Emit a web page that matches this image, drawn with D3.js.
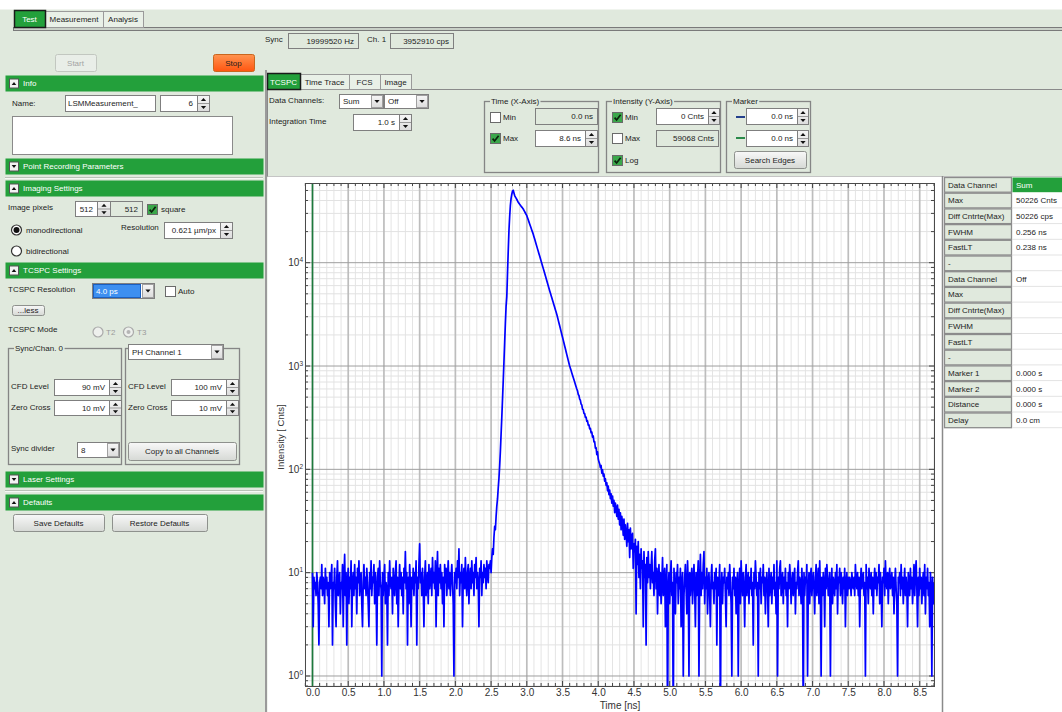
<!DOCTYPE html>
<html><head><meta charset="utf-8">
<script src="https://cdn.jsdelivr.net/npm/d3@7"></script>
<style>
html,body{margin:0;padding:0;background:#fff;}
svg{display:block;font-family:"Liberation Sans",Arial,sans-serif;}
text{fill:#1c1c1c;font-size:8px;}
</style></head><body><div id="app"></div>
<script>
// histogram bins (counts per 10 ps bin)
var binNs = 0.01;
var preStart = 0.00;
var preCounts = [
 10,3,9,7,8,6,10,8,5,2, 8,9,7,12,6,9,8,5,11,7, 9,6,8,3,10,7,9,12,2,8,
 7,11,5,3,9,13,6,8,10,4, 8,7,12,3,9,15,6,10,2,8, 11,5,9,7,13,3,8,10,6,12,
 7,9,4,11,8,13,6,9,10,5, 3,8,12,7,9,6,11,8,5,3, 10,7,13,6,9,8,12,5,10,7,
 2,9,11,6,13,8,7,1,10,6, 9,12,5,8,7,2,10,6,13,8, 7,9,4,11,8,6,10,13,5,9,
 3,8,12,7,10,6,9,4,11,8, 16,7,10,2,9,5,12,8,3,9, 7,11,6,10,8,13,2,9,7,12,
 19,8,10,6,11,7,3,9,13,6, 8,10,5,12,7,9,11,6,14,8, 10,7,13,3,9,16,6,11,8,12,
 7,10,5,9,3,12,8,11,6,9, 13,7,10,6,9,12,8,5,1,10, 8,11,7,13,9,17,6,10,8,12,
 3,9,11,7,14,8,6,10,12,5, 9,11,7,13,8,10,6,12,9,14, 7,10,8,3,11,9,13,6,10,8,
 12,9,11,7,13,10,8,12
];
var pulseStart = 2.48;
var pulseCounts = [
 11,13,10,14,17,15,22,28,26,35,
 44,52,66,82,108,150,220,320,480,720,
 1100,1700,2600,3800,4700,8000,13000,20500,28000,36000,
 42000,46000,49400,50226,47300,44700,43250,42200,40900,39600,
 38460,37580,36730,35970,35240,34510,33810,33110,32140,31190,
 30270,29380,28510,27230,26000,24830,23710,22650,21630,20650,
 19770,18880,17870,16940,16030,15200,14390,13610,12910,12220,
 11590,10960,10380,9840,9310,8810,8340,7890,7460,7060,
 6680,6320,5980,5660,5360,5080,4820,4570,4340,4110,
 3900,3700,3510,3330,3160,2965,2780,2610,2450,2300,
 2150,2020,1900,1780,1670,1565,1470,1375,1290,1210,
 1135,1065,1000,950,903,858,815,774,736,699,
 664,631,600,575,531,518,478,466,428,419,
 383,378,348,346,318,320,291,294,268,270,
 246,249,226,229,205,210,184,185,160,162,
 139,148,126,118,113,104,109,92,99,86,
 90,77,81,70,74,62,69,57,63,52,
 58,47,55,44,50,38,47,41,35,45,
 33,41,29,38,26,35,30,23,33,21,
 29,24,18,30,20,26,14,27,17,22,
 24,11,19,16,21,4,18,12,20,9,
 15,7,17,11,13,3,16,9,12,2,
 14,8,16
];
var tailStart = 4.71;
var tailCounts = [
 9,12,7,11,16,8,10,6,13,17, 7,11,4,9,12,6,10,5,8,14, 6,9,11,3,8,12,0,7,10,5,
 9,13,6,8,0,11,7,4,10,8, 12,5,9,7,11,3,8,10,1,6, 9,12,7,4,13,8,1,10,6,9,
 11,5,8,12,7,3,10,6,9,13, 1,8,15,6,10,7,12,16,5,9, 7,11,4,8,10,6,3,9,12,7,
 8,5,10,7,11,2,9,6,8,12, 0,7,10,5,9,8,11,6,3,9, 7,10,6,12,8,5,1,9,7,11,
 6,9,4,8,10,1,7,11,5,13, 8,6,10,7,3,9,12,6,8,10, 5,9,7,11,6,8,2,10,7,13,
 9,6,8,1,10,7,11,5,9,8, 12,6,9,4,8,10,7,3,11,6, 8,10,5,9,7,12,6,8,4,13,
 1,9,7,11,13,6,8,10,5,9, 7,11,6,8,3,10,7,12,9,5, 8,10,6,9,11,4,8,7,10,13,
 6,9,8,5,11,7,0,10,6,9, 8,12,1,7,10,5,9,11,6,8, 10,7,4,9,12,6,8,11,5,13,
 7,1,9,6,10,8,3,11,7,12, 9,6,8,10,1,7,11,5,9,8, 6,10,7,12,4,9,8,11,6,10,
 8,5,9,7,11,3,8,10,6,9, 7,9,8,6,10,8,7,9,6,12, 8,7,10,6,9,3,8,11,7,9,
 10,6,8,1,12,7,9,5,11,8, 7,10,6,9,4,8,11,7,10,6, 9,8,12,5,10,7,3,9,8,11,
 6,13,8,7,10,5,9,11,7,8, 10,6,9,4,8,11,7,5,1,9, 8,10,6,12,7,9,5,8,11,6,
 9,7,3,10,8,6,11,7,9,5, 8,12,6,10,13,7,3,9,6,11, 7,9,5,8,10,6,12,4,9,7,
 11,6,8,3,10,7,1,9,5,8
];
var xMin = -0.105, xMax = 8.70;
var yMin = 0.8, yMax = 59068;
var xMajor = d3.range(0, 18).map(function(i){ return i * 0.5; });
var xMinor = d3.range(-1, 88).map(function(i){ return i / 10; });
var yDecades = [1, 10, 100, 1000, 10000];

var tableLabels = ['Data Channel','Max','Diff Cntrte(Max)','FWHM','FastLT','-',
  'Data Channel','Max','Diff Cntrte(Max)','FWHM','FastLT','-',
  'Marker 1','Marker 2','Distance','Delay'];
var tableValues = ['Sum','50226 Cnts','50226 cps','0.256 ns','0.238 ns','',
  'Off','','','','','','0.000 s','0.000 s','0.000 s','0.0 cm'];

var W = 1062, H = 712;
var BG = '#e0e9dd', GREEN = '#23a03b', EDGE = '#7f7f7f';

var svg = d3.select('#app').append('svg').attr('width', W).attr('height', H);
var defs = svg.append('defs');
function grad(id, c1, c2){
  var g = defs.append('linearGradient').attr('id', id).attr('x1',0).attr('y1',0).attr('x2',0).attr('y2',1);
  g.append('stop').attr('offset','0%').attr('stop-color',c1);
  g.append('stop').attr('offset','100%').attr('stop-color',c2);
}
grad('btn','#f8f8f8','#d6d9d5');
grad('stop','#ff9450','#ff5510');
grad('spin','#f6f6f6','#dcdcdc');

var ui = svg.append('g');

function rect(x,y,w,h,fill,stroke,sw){
  return ui.append('rect').attr('x',x+.5).attr('y',y+.5).attr('width',w).attr('height',h)
    .attr('fill',fill).attr('stroke',stroke||'none').attr('stroke-width',sw||1);
}
function txt(x,y,s,o){
  o = o || {};
  var t = ui.append('text').attr('x',x).attr('y',y).text(s);
  if(o.anchor) t.attr('text-anchor',o.anchor);
  if(o.fill) t.style('fill',o.fill);
  if(o.size) t.style('font-size',o.size+'px');
  return t;
}
function hline(x1,x2,y,c,w){ ui.append('line').attr('x1',x1).attr('x2',x2).attr('y1',y).attr('y2',y).attr('stroke',c).attr('stroke-width',w||1); }
function vline(x,y1,y2,c,w){ ui.append('line').attr('x1',x).attr('x2',x).attr('y1',y1).attr('y2',y2).attr('stroke',c).attr('stroke-width',w||1); }
function tri(cx,cy,up,size,c){
  var s = size||2.5;
  var d = up ? 'M'+(cx-s)+','+(cy+s*0.6)+'L'+(cx+s)+','+(cy+s*0.6)+'L'+cx+','+(cy-s*0.6)+'Z'
             : 'M'+(cx-s)+','+(cy-s*0.6)+'L'+(cx+s)+','+(cy-s*0.6)+'L'+cx+','+(cy+s*0.6)+'Z';
  ui.append('path').attr('d',d).attr('fill',c||'#111');
}
function box(x,y,w,h,s,align,bg){
  rect(x,y,w,h,bg||'#fff',EDGE);
  if(s){
    if(align==='start') txt(x+3,y+h/2+3,s);
    else txt(x+w-4,y+h/2+3,s,{anchor:'end'});
  }
}
function spinner(x,y,w,h){
  rect(x,y,w,h,'url(#spin)',EDGE);
  hline(x+1,x+w,y+h/2+.5,'#999');
  tri(x+w/2+.5,y+h/4+.5,true,2.6);
  tri(x+w/2+.5,y+h*3/4+.5,false,2.6);
}
function checkbox(x,y,on){
  rect(x,y,10,10,on?'#3ba84b':'#fff','#6a6a6a');
  if(on) ui.append('path').attr('d','M'+(x+2.6)+','+(y+5.6)+'L'+(x+4.6)+','+(y+8)+'L'+(x+8.6)+','+(y+2.8))
    .attr('fill','none').attr('stroke','#0a230c').attr('stroke-width',1.7);
}
function dropdown(x,y,w,h,s,sel){
  rect(x,y,w,h,'#fff',EDGE);
  if(sel) rect(x+1,y+1,w-15,h-2,'#3d8ff0','#1a5fc0');
  rect(x+w-12,y+1,11,h-2,'url(#spin)','#a0a0a0');
  tri(x+w-6,y+h/2+.5,false,2.6);
  txt(x+4,y+h/2+3,s,{fill:sel?'#fff':'#1c1c1c'});
}
function button(x,y,w,h,s,o){
  o = o || {};
  ui.append('rect').attr('x',x+.5).attr('y',y+.5).attr('width',w).attr('height',h).attr('rx',2)
    .attr('fill',o.fill||'url(#btn)').attr('stroke',o.stroke||'#8e918d');
  txt(x+w/2,y+h/2+3,s,{anchor:'middle',fill:o.color});
}
function header(y,s,open){
  rect(5,y,258,16,GREEN);
  rect(9,y+3.5,9,9,'#f2f2f2','#555');
  tri(14,y+8.5,open,2.3);
  txt(23,y+11,s,{fill:'#fff'});
}
function group(x,y,w,h,title){
  rect(x,y,w,h,'none','#858585',1.3);
  if(title){
    var t = txt(x+7,y+3,title);
    var bb = t.node().getBBox();
    ui.insert('rect','text:last-of-type').attr('x',bb.x-1).attr('y',bb.y).attr('width',bb.width+2).attr('height',bb.height).attr('fill',BG);
    t.raise();
  }
}
function radio(cx,cy,on,dis){
  ui.append('circle').attr('cx',cx).attr('cy',cy).attr('r',5).attr('fill',dis?'#eef0ed':'#fff')
    .attr('stroke',dis?'#aaa':'#333').attr('stroke-width',1.2);
  if(on) ui.append('circle').attr('cx',cx).attr('cy',cy).attr('r',dis?2:3).attr('fill',dis?'#b5b5b5':'#111');
}

// page background and main tabs
rect(-1,-1,W+2,H+2,BG);
rect(-1,-1,W+2,10,'#fff');
rect(13,27,W,3,'#c9d0c7','#7a7a7a');
rect(45,11,58,16,'#e9f0e7','#9a9a9a');
txt(74,22,'Measurement',{anchor:'middle'});
rect(103,11,40,16,'#e9f0e7','#9a9a9a');
txt(123,22,'Analysis',{anchor:'middle'});
rect(14,10,31,17,GREEN,'#1a1a1a',1.5);
txt(29.5,22,'Test',{anchor:'middle',fill:'#fff'});

// sync counters
txt(265,42,'Sync');
box(288,33,70,15,'19999520  Hz','end',BG);
txt(367,42,'Ch. 1');
box(390,33,63,15,'3952910  cps','end',BG);

button(55,54,41,17,'Start',{fill:'#e9eee8',stroke:'#c2c7c0',color:'#a3a3a3'});
button(213,54,41,17,'Stop',{fill:'url(#stop)',stroke:'#c8661e'});

// left settings panel
header(75,'Info',true);
txt(12,106,'Name:');
box(65,95,90,16,'LSMMeasurement_','start');
box(160,95,37,16,'6','end');
spinner(197,95,12,16);
rect(12,116,220,38,'#fff','#8a8a8a');
header(158,'Point Recording Parameters',false);
hline(5,263,177.5,'#b9c2b7'); hline(5,263,178.5,'#f6f9f5');
header(180,'Imaging Settings',true);
txt(8,210,'Image pixels');
box(75,201,22,15,'512','end');
spinner(97,201,13,15);
box(110,201,32,15,'512','end',BG);
checkbox(147,204,true);
txt(161,212,'square');
radio(16.5,230,true);
txt(26,233,'monodirectional');
txt(121,230,'Resolution');
box(164,222,56,16,'0.621 µm/px','end');
spinner(220,222,12,16);
radio(16.5,251,false);
txt(26,254,'bidirectional');
header(262,'TCSPC Settings',true);
txt(8,292,'TCSPC Resolution');
dropdown(92,283,62,15,'4.0 ps',true);
checkbox(165,286,false);
txt(178,294,'Auto');
button(12,305,32,10,'...less');
txt(8,332,'TCSPC Mode');
radio(98,332,false,true); txt(106,335,'T2',{fill:'#9a9a9a'});
radio(128.5,332,true,true); txt(137,335,'T3',{fill:'#9a9a9a'});
group(8,348,113,116,'Sync/Chan. 0');
group(125,348,114,116,null);
dropdown(128,344,95,15,'PH Channel 1');
txt(11,389,'CFD Level'); box(54,379,55,16,'90 mV','end'); spinner(109,379,12,16);
txt(11,410,'Zero Cross'); box(54,400,55,15,'10 mV','end'); spinner(109,400,12,15);
txt(11,451,'Sync divider'); dropdown(77,442,42,15,'8');
txt(128,389,'CFD Level'); box(171,379,55,16,'100 mV','end'); spinner(226,379,12,16);
txt(128,410,'Zero Cross'); box(171,400,55,15,'10 mV','end'); spinner(226,400,12,15);
button(128,442,108,18,'Copy to all Channels');
header(471,'Laser Settings',false);
hline(5,263,490.5,'#b9c2b7'); hline(5,263,491.5,'#f6f9f5');
header(494,'Defaults',true);
button(13,514,91,17,'Save Defaults');
button(112,514,95,17,'Restore Defaults');

// right side: sub tabs and control strip
rect(267,89,W,87,BG,'#8a8a8a');
rect(300,74,49,15,'#e9f0e7','#9a9a9a'); txt(324.5,85,'Time Trace',{anchor:'middle'});
rect(349,74,31,15,'#e9f0e7','#9a9a9a'); txt(364.5,85,'FCS',{anchor:'middle'});
rect(380,74,31,15,'#e9f0e7','#9a9a9a'); txt(395.5,85,'Image',{anchor:'middle'});
rect(267,73,33,16,GREEN,'#1a1a1a',1.5); txt(283.5,85,'TCSPC',{anchor:'middle',fill:'#fff'});
vline(266,70,712,'#9a9a9a',2);

txt(269,103,'Data Channels:');
dropdown(339,94,44,14,'Sum');
dropdown(384,94,44,14,'Off');
txt(269,124,'Integration Time');
box(353,114,46,16,'1.0 s','end');
spinner(399,114,12,16);

group(484,101,114,71,'Time (X-Axis)');
checkbox(490,112,false); txt(503,120,'Min');
box(535,108,62,16,'0.0  ns','end',BG);
checkbox(490,133,true); txt(503,141,'Max');
box(535,130,50,16,'8.6  ns','end'); spinner(585,130,12,16);

group(606,101,114,71,'Intensity (Y-Axis)');
checkbox(612,112,true); txt(625,120,'Min');
box(656,108,52,16,'0  Cnts','end'); spinner(708,108,11,16);
checkbox(612,133,false); txt(625,141,'Max');
box(656,130,62,16,'59068  Cnts','end',BG);
checkbox(612,155,true); txt(625,163,'Log');

group(726,101,84,71,'Marker');
hline(736,745,117,'#24408c',2); box(746,108,51,16,'0.0  ns','end'); spinner(797,108,11,16);
hline(736,745,138,'#2a8a4a',2); box(746,130,51,16,'0.0  ns','end'); spinner(797,130,11,16);
button(734,151,72,17,'Search Edges');

// chart panel and results table
rect(267,176,675,537,'#fff');
rect(942,176,121,537,'#fff');
vline(942.5,176,712,'#8a8a8a',1.5);

var rowTop = 177, rowH = 15.7;
tableLabels.forEach(function(l,i){
  var y0 = rowTop + i*rowH;
  rect(944,y0,67,rowH-1,BG,'#8c8c8c',1.3);
  txt(948,y0+10.5,l);
  if(i===0) rect(1012,y0,51,rowH-1,GREEN);
  else hline(1012,1062,y0+rowH-0.5,'#e3e3e3');
  if(tableValues[i]) txt(1016,y0+10.5,tableValues[i],{fill:i===0?'#fff':'#1c1c1c'});
});

// TCSPC histogram
var plot = {x0:305, x1:934, y0:183, y1:686};
var x = d3.scaleLinear().domain([xMin,xMax]).range([plot.x0,plot.x1]);
var y = d3.scaleLog().domain([yMin,yMax]).range([plot.y1,plot.y0]);
var chart = svg.append('g');

chart.append('rect').attr('x',plot.x0).attr('y',plot.y0).attr('width',plot.x1-plot.x0).attr('height',plot.y1-plot.y0).attr('fill','#fff');

var yMinor = y.ticks().filter(function(v){ return yDecades.indexOf(v) < 0; });
chart.append('g').selectAll('line').data(xMinor.filter(function(v){ return Math.round(v*10)%5 !== 0; }))
  .enter().append('line').attr('x1',function(d){return x(d);}).attr('x2',function(d){return x(d);})
  .attr('y1',plot.y0).attr('y2',plot.y1).attr('stroke','#e4e4e4');
chart.append('g').selectAll('line').data(yMinor).enter().append('line')
  .attr('x1',plot.x0).attr('x2',plot.x1).attr('y1',function(d){return y(d);}).attr('y2',function(d){return y(d);})
  .attr('stroke','#e2e2e2');
chart.append('g').selectAll('line').data(xMajor).enter().append('line')
  .attr('x1',function(d){return x(d);}).attr('x2',function(d){return x(d);})
  .attr('y1',plot.y0).attr('y2',plot.y1).attr('stroke','#bdbdbd').attr('stroke-width',1.7);
chart.append('g').selectAll('line').data(yDecades).enter().append('line')
  .attr('x1',plot.x0).attr('x2',plot.x1).attr('y1',function(d){return y(d);}).attr('y2',function(d){return y(d);})
  .attr('stroke','#9e9e9e');

// inward ticks on the frame
var tk = chart.append('g').attr('stroke','#444');
xMinor.forEach(function(v){
  var L = Math.round(v*10)%5===0 ? 5 : 3;
  tk.append('line').attr('x1',x(v)).attr('x2',x(v)).attr('y1',plot.y1).attr('y2',plot.y1-L);
  tk.append('line').attr('x1',x(v)).attr('x2',x(v)).attr('y1',plot.y0).attr('y2',plot.y0+L);
});
y.ticks().forEach(function(v){
  var L = yDecades.indexOf(v)>=0 ? 5 : 3;
  tk.append('line').attr('x1',plot.x0).attr('x2',plot.x0+L).attr('y1',y(v)).attr('y2',y(v));
  tk.append('line').attr('x1',plot.x1).attr('x2',plot.x1-L).attr('y1',y(v)).attr('y2',y(v));
});

defs.append('clipPath').attr('id','plotclip').append('rect')
  .attr('x',plot.x0).attr('y',plot.y0).attr('width',plot.x1-plot.x0).attr('height',plot.y1-plot.y0);

// marker line at 0 ns
chart.append('line').attr('x1',x(0)).attr('x2',x(0)).attr('y1',plot.y0).attr('y2',plot.y1)
  .attr('stroke','#1d7a3c').attr('stroke-width',1.6);

function bins(start,counts){ return counts.map(function(c,i){ return {t:start+i*binNs, c:c}; }); }
var series = [].concat(bins(preStart,preCounts), bins(pulseStart,pulseCounts), bins(tailStart,tailCounts));
var line = d3.line().x(function(d){return x(d.t);}).y(function(d){ return d.c>0 ? y(d.c) : plot.y1+40; });
chart.append('path').datum(series).attr('clip-path','url(#plotclip)').attr('d',line)
  .attr('fill','none').attr('stroke','#0000ff').attr('stroke-width',1.7).attr('stroke-linejoin','round');

chart.append('rect').attr('x',plot.x0+.5).attr('y',plot.y0+.5).attr('width',plot.x1-plot.x0).attr('height',plot.y1-plot.y0)
  .attr('fill','none').attr('stroke','#4a4a4a');

var xAxis = chart.append('g').attr('transform','translate(0,'+plot.y1+')')
  .call(d3.axisBottom(x).tickValues(xMajor).tickFormat(d3.format('.1f')).tickSize(0).tickPadding(3));
xAxis.select('.domain').remove();
xAxis.selectAll('text').style('font-size','10px').style('fill','#333').style('font-family','"Liberation Sans",Arial,sans-serif');

yDecades.forEach(function(v,k){
  var t = chart.append('text').attr('x',plot.x0-2).attr('y',y(v)+3.5).attr('text-anchor','end')
    .style('font-size','10px').style('fill','#333');
  t.append('tspan').text('10');
  t.append('tspan').attr('dy',-4).style('font-size','6.5px').text(k);
});

chart.append('text').attr('x',620).attr('y',709).attr('text-anchor','middle').style('font-size','10px').style('fill','#333').text('Time [ns]');
chart.append('text').attr('transform','translate(284,437) rotate(-90)').attr('text-anchor','middle')
  .style('font-size','9.5px').style('fill','#333').text('Intensity [ Cnts]');
</script>
</body></html>
